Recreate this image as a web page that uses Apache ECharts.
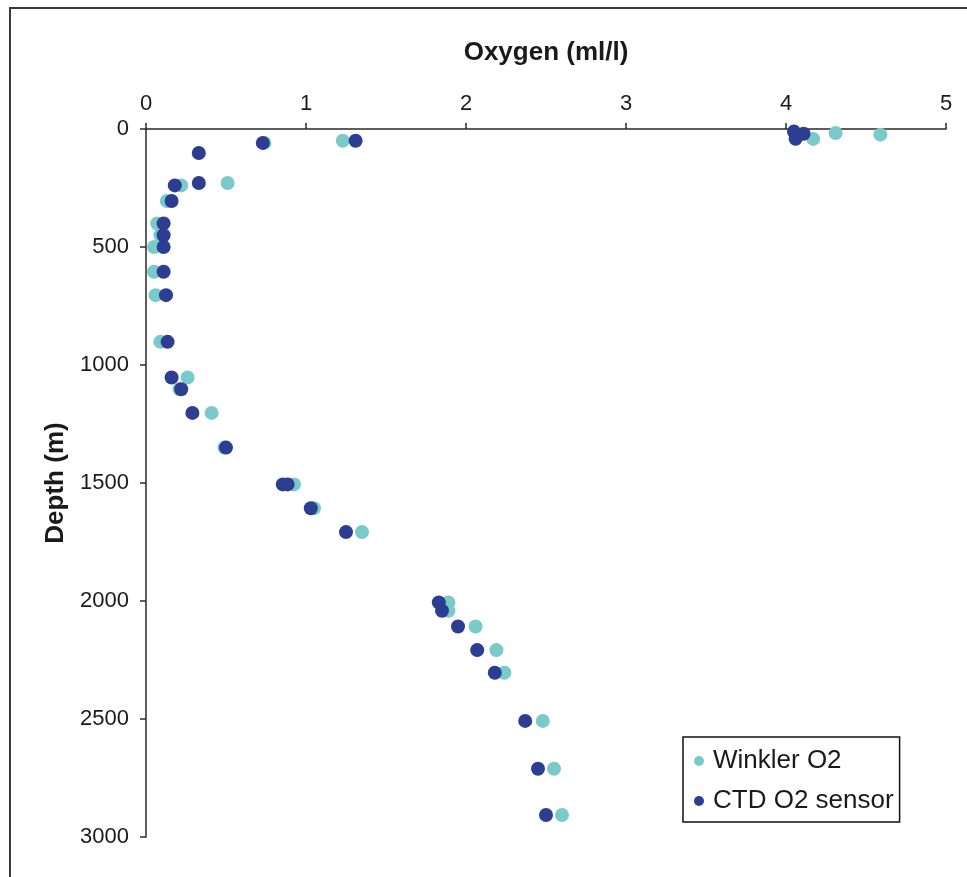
<!DOCTYPE html>
<html>
<head>
<meta charset="utf-8">
<title>Oxygen profile</title>
<script src="https://cdn.jsdelivr.net/npm/echarts@6/dist/echarts.min.js"></script>
<style>
  html, body { margin: 0; padding: 0; background: #ffffff; }
  #chart { width: 967px; height: 877px; }
</style>
</head>
<body>
<div id="chart"></div>
<script>
// Axis ticks
const oxygenTicks = [0, 1, 2, 3, 4, 5];
const depthTicks = [0, 500, 1000, 1500, 2000, 2500, 3000];

// Winkler titration samples: oxygen (ml/l) and depth (m)
const winklerO2 = [4.17, 4.31, 4.59, 1.23, 0.74, 0.51, 0.22, 0.13, 0.07, 0.09, 0.05, 0.05, 0.06, 0.09,
  0.26, 0.21, 0.41, 0.49, 0.925, 1.05, 1.35, 1.89, 1.89, 2.06, 2.19, 2.24, 2.48, 2.55, 2.60];
const winklerDepth = [42, 17, 24, 50, 59, 229, 239, 305, 400, 450, 500, 605, 704, 902,
  1053, 1103, 1203, 1350, 1506, 1607, 1708, 2006, 2041, 2108, 2208, 2304, 2508, 2711, 2907];

// CTD oxygen sensor readings at the bottle depths
const ctdO2 = [4.05, 4.11, 4.06, 1.31, 0.73, 0.33, 0.33, 0.18, 0.16, 0.11, 0.11, 0.11, 0.11, 0.125, 0.135,
  0.16, 0.22, 0.29, 0.50, 0.855, 0.885, 1.03, 1.25, 1.83, 1.85, 1.95, 2.07, 2.18, 2.37, 2.45, 2.50];
const ctdDepth = [11, 20, 41, 50, 59, 102, 229, 239, 305, 400, 450, 500, 605, 704, 902,
  1053, 1103, 1203, 1350, 1506, 1506, 1607, 1708, 2006, 2041, 2108, 2208, 2304, 2508, 2711, 2907];

const seriesNames = ['Winkler O2', 'CTD O2 sensor'];
const seriesColors = ['#7bcaca', '#2c3d92'];

const pairs = (xs, ys) => xs.map((v, i) => [v, ys[i]]);

const FONT = '"Liberation Sans", Arial, sans-serif';
const TEXT = '#1a1a1a';
const AXIS = '#2a2a2a';

const chart = echarts.init(document.getElementById('chart'), null, { renderer: 'canvas' });

chart.setOption({
  backgroundColor: '#ffffff',
  animation: false,
  textStyle: { fontFamily: FONT },
  graphic: [{
    type: 'rect',
    silent: true,
    z: -1,
    shape: { x: 10, y: 8, width: 1000, height: 1000 },
    style: { fill: 'none', stroke: '#3a3a3a', lineWidth: 2 }
  }],
  grid: { left: 146, top: 129, right: 21, bottom: 40, containLabel: false },
  xAxis: {
    type: 'value',
    position: 'top',
    min: oxygenTicks[0],
    max: oxygenTicks[oxygenTicks.length - 1],
    interval: oxygenTicks[1] - oxygenTicks[0],
    name: 'Oxygen (ml/l)',
    nameLocation: 'middle',
    nameGap: 63,
    nameTextStyle: { fontFamily: FONT, fontSize: 26, fontWeight: 'bold', color: TEXT },
    axisLine: { show: true, onZero: false, lineStyle: { color: AXIS, width: 1.5 } },
    axisTick: { show: true, inside: false, length: 6, lineStyle: { color: AXIS, width: 1.5 } },
    axisLabel: { fontFamily: FONT, fontSize: 22, color: TEXT, margin: 14 },
    splitLine: { show: false }
  },
  yAxis: {
    type: 'value',
    inverse: true,
    min: depthTicks[0],
    max: depthTicks[depthTicks.length - 1],
    interval: depthTicks[1] - depthTicks[0],
    name: 'Depth (m)',
    nameLocation: 'middle',
    nameGap: 72,
    nameTextStyle: { fontFamily: FONT, fontSize: 26, fontWeight: 'bold', color: TEXT },
    axisLine: { show: true, onZero: false, lineStyle: { color: AXIS, width: 1.5 } },
    axisTick: { show: true, inside: false, length: 6, lineStyle: { color: AXIS, width: 1.5 } },
    axisLabel: { fontFamily: FONT, fontSize: 22, color: TEXT, margin: 17, formatter: (v) => String(v) },
    splitLine: { show: false }
  },
  legend: {
    orient: 'vertical',
    left: 683,
    top: 737,
    padding: [9, 6, 6, 11],
    itemGap: 10,
    itemWidth: 18,
    itemHeight: 10,
    icon: 'circle',
    borderColor: '#111111',
    borderWidth: 1.5,
    backgroundColor: '#ffffff',
    textStyle: { fontFamily: FONT, fontSize: 26, color: TEXT, lineHeight: 30 },
    data: seriesNames
  },
  series: [
    {
      name: seriesNames[0],
      type: 'scatter',
      symbol: 'circle',
      symbolSize: 14,
      itemStyle: { color: seriesColors[0], opacity: 1 },
      z: 2,
      data: pairs(winklerO2, winklerDepth)
    },
    {
      name: seriesNames[1],
      type: 'scatter',
      symbol: 'circle',
      symbolSize: 14,
      itemStyle: { color: seriesColors[1], opacity: 1 },
      z: 3,
      data: pairs(ctdO2, ctdDepth)
    }
  ]
});
</script>
</body>
</html>
